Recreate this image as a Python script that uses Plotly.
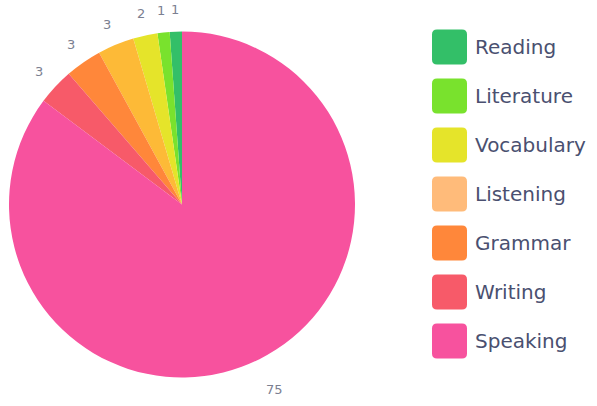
import math
import plotly.graph_objects as go

categories = ["Reading", "Literature", "Vocabulary", "Listening", "Grammar", "Writing", "Speaking"]
values = [1, 1, 2, 3, 3, 3, 75]
slice_colors = ["#33BF68", "#79E22D", "#E5E42A", "#FDBA37", "#FF873A", "#F75A69", "#F7529E"]
legend_colors = ["#33BF68", "#79E22D", "#E5E42A", "#FFBB7A", "#FF873A", "#F75A69", "#F7529E"]

W, H = 597, 406
# pie placement (pixels)
PX0, PX1, PY0, PY1 = 9, 355, 31, 378


def px(x):
    return x / W


def py(y):
    return 1 - y / H


fig = go.Figure(go.Pie(
    labels=categories,
    values=values,
    sort=False,
    direction="counterclockwise",
    rotation=-360 * values[0] / sum(values),
    marker=dict(colors=slice_colors, line=dict(width=0)),
    textinfo="none",
    domain=dict(x=[px(PX0), px(PX1)], y=[py(PY1), py(PY0)]),
    hoverinfo="label+value",
))

shapes = []
annotations = []

# value labels placed outside each slice, from the data's cumulative angles
cx, cy0 = (PX0 + PX1) / 2, (PY0 + PY1) / 2
R = min(PX1 - PX0, PY1 - PY0) / 2
total = sum(values)
cum = 0
for v in values:
    mid = (cum + v / 2) / total * 2 * math.pi  # counterclockwise from top
    cum += v
    txt = str(v)
    rl = R + 10 + 12 * len(txt)
    lx = cx - rl * math.sin(mid)
    ly = cy0 - rl * math.cos(mid)
    annotations.append(dict(x=px(lx), y=py(ly), xref="paper", yref="paper",
                            text=txt, showarrow=False, xanchor="center", yanchor="middle",
                            font=dict(size=13, color="#7B8091", family="DejaVu Sans")))

x0, size, r = 432, 35, 5
for i, (cat, col) in enumerate(zip(categories, legend_colors)):
    cy = 47 + 49 * i
    y0 = cy - size / 2
    x1, y1 = x0 + size, y0 + size
    path = (f"M {px(x0 + r)} {py(y0)} L {px(x1 - r)} {py(y0)} "
            f"Q {px(x1)} {py(y0)} {px(x1)} {py(y0 + r)} L {px(x1)} {py(y1 - r)} "
            f"Q {px(x1)} {py(y1)} {px(x1 - r)} {py(y1)} L {px(x0 + r)} {py(y1)} "
            f"Q {px(x0)} {py(y1)} {px(x0)} {py(y1 - r)} L {px(x0)} {py(y0 + r)} "
            f"Q {px(x0)} {py(y0)} {px(x0 + r)} {py(y0)} Z")
    shapes.append(dict(type="path", xref="paper", yref="paper", path=path,
                       fillcolor=col, line=dict(width=0)))
    annotations.append(dict(x=px(473), y=py(cy), xref="paper", yref="paper",
                            text=cat, showarrow=False, xanchor="left", yanchor="middle",
                            font=dict(size=20, color="#4A5070", family="DejaVu Sans")))

fig.update_layout(
    width=W, height=H,
    margin=dict(l=0, r=0, t=0, b=0, autoexpand=False),
    paper_bgcolor="white",
    plot_bgcolor="white",
    showlegend=False,
    shapes=shapes,
    annotations=annotations,
)

fig.write_html("out.html", config={"displayModeBar": False},
               post_script="document.body.style.margin='0';")
